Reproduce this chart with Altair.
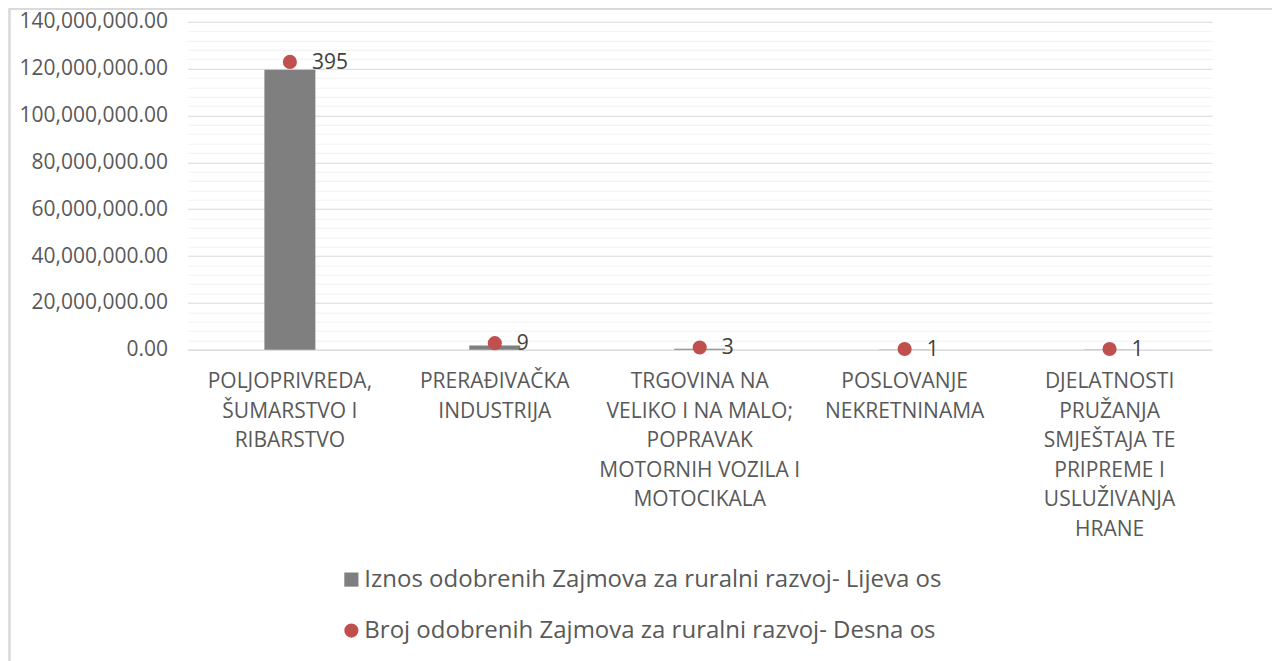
import altair as alt
import pandas as pd

categories = [
    "POLJOPRIVREDA,\nŠUMARSTVO I\nRIBARSTVO",
    "PRERAĐIVAČKA\nINDUSTRIJA",
    "TRGOVINA NA\nVELIKO I NA MALO;\nPOPRAVAK\nMOTORNIH VOZILA I\nMOTOCIKALA",
    "POSLOVANJE\nNEKRETNINAMA",
    "DJELATNOSTI\nPRUŽANJA\nSMJEŠTAJA TE\nPRIPREME I\nUSLUŽIVANJA\nHRANE",
]
amounts = [119500000, 1800000, 400000, 120000, 100000]
counts = [395, 9, 3, 1, 1]

series_names = [
    "Iznos odobrenih Zajmova za ruralni razvoj- Lijeva os",
    "Broj odobrenih Zajmova za ruralni razvoj- Desna os",
]
series_colors = ["#7f7f7f", "#c0504d"]
series_shapes = ["square", "circle"]

left_major_ticks = [0, 20000000, 40000000, 60000000, 80000000, 100000000, 120000000, 140000000]
left_minor_step = 4000000
right_ticks = [0, 50, 100, 150, 200, 250, 300, 350, 400, 450]

left_all_ticks = [i * left_minor_step for i in range(int(left_major_ticks[-1] / left_minor_step) + 1)]

df = pd.DataFrame({
    "category": categories,
    "amount": amounts,
    "count": counts,
    "s_bar": [series_names[0]] * len(categories),
    "s_pt": [series_names[1]] * len(categories),
})

FONT = "Open Sans"
TXT = "#595959"
W, H = 1025, 328

x_enc = alt.X(
    "category:N",
    sort=categories,
    scale=alt.Scale(paddingInner=0, paddingOuter=0),
    axis=alt.Axis(
        title=None, labelAngle=0, ticks=False, tickSize=0, domain=True, grid=False,
        domainColor="#d9d9d9", labelExpr="split(datum.label, '\\n')",
        labelLineHeight=29.5, labelFontSize=21, labelColor=TXT, labelFont=FONT,
        labelPadding=21, labelLimit=300, labelBaseline="top",
    ),
)

color_enc_bar = alt.Color(
    "s_bar:N",
    scale=alt.Scale(domain=series_names, range=series_colors),
    legend=alt.Legend(
        title=None, orient="none", legendX=152, legendY=546, direction="vertical",
        labelFontSize=24, labelColor=TXT, labelFont=FONT, symbolSize=200,
        rowPadding=27, labelOffset=1, padding=0, labelLimit=900,
        symbolStrokeWidth=0,
    ),
)

bars = alt.Chart(df).mark_bar(size=51, color="#7f7f7f").encode(
    x=x_enc,
    y=alt.Y(
        "amount:Q",
        scale=alt.Scale(domain=[0, left_major_ticks[-1]], nice=False),
        axis=alt.Axis(
            title=None, values=left_all_ticks, ticks=False, domain=False,
            labelExpr="datum.value % 20000000 === 0 ? format(datum.value, ',.2f') : ''",
            labelFontSize=21, labelColor=TXT, labelFont=FONT, labelPadding=20,
            gridColor={"condition": {"test": "datum.value % 20000000 === 0", "value": "#d9d9d9"}, "value": "#f2f2f2"},
            gridWidth=1,
        ),
    ),
    color=color_enc_bar,
)

points = alt.Chart(df).mark_point(filled=True, size=200, opacity=1).encode(
    x=alt.X("category:N", sort=categories),
    y=alt.Y(
        "count:Q",
        scale=alt.Scale(domain=[0, right_ticks[-1]], nice=False),
        axis=alt.Axis(
            title=None, orient="right", values=right_ticks, ticks=False, domain=False,
            grid=False, labelFontSize=21, labelColor=TXT, labelFont=FONT, labelPadding=22,
        ),
    ),
    color=alt.Color("s_pt:N", scale=alt.Scale(domain=series_names, range=series_colors)),
    shape=alt.Shape("s_pt:N", scale=alt.Scale(domain=series_names, range=series_shapes)),
)

labels = alt.Chart(df).mark_text(
    align="left", baseline="middle", dx=22, dy=1, fontSize=21, font=FONT, color="#404040"
).encode(
    x=alt.X("category:N", sort=categories),
    y=alt.Y("count:Q", scale=alt.Scale(domain=[0, right_ticks[-1]], nice=False), axis=None),
    text=alt.Text("count:Q"),
)

border = alt.Chart(df).mark_rect(fill=None, stroke="#d9d9d9", strokeWidth=1.5, clip=False).encode(
    x=alt.value(-178), x2=alt.value(1086), y=alt.value(-13), y2=alt.value(H + 400),
)

left = alt.layer(border, bars)
right = alt.layer(points, labels)

chart = alt.layer(left, right).resolve_scale(y="independent").properties(
    width=W, height=H,
    background="white",
    autosize=alt.AutoSizeParams(type="none"),
    padding={"left": 179.5, "top": 13.7, "right": 60, "bottom": 311},
).configure_view(stroke="transparent", strokeWidth=0)

chart.save("out.html", embed_options={"renderer": "svg", "actions": False})
